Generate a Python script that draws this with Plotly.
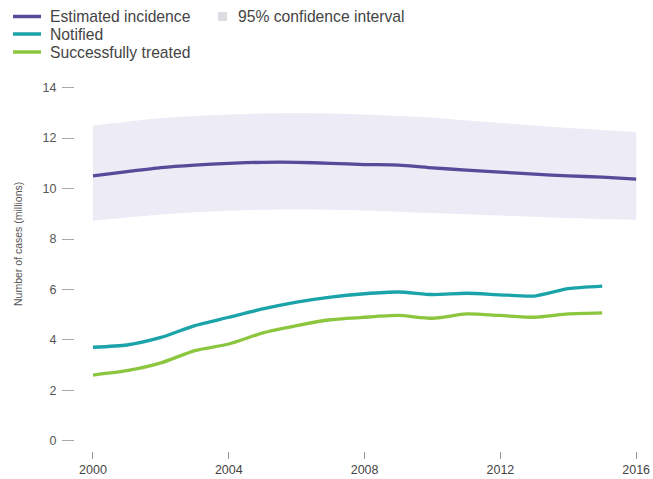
import plotly.graph_objects as go

# Tuberculosis burden, 2000-2016 (millions of cases)
years = list(range(2000, 2017))
incidence = [10.50, 10.67, 10.83, 10.93, 11.00, 11.04, 11.04, 11.00, 10.95,
             10.93, 10.82, 10.73, 10.65, 10.57, 10.50, 10.45, 10.37]
ci_upper = [12.50, 12.65, 12.78, 12.87, 12.93, 12.97, 12.98, 12.97, 12.93,
            12.87, 12.80, 12.70, 12.60, 12.50, 12.40, 12.32, 12.24]
ci_lower = [8.72, 8.85, 8.97, 9.06, 9.12, 9.16, 9.17, 9.16, 9.13,
            9.08, 9.03, 8.98, 8.93, 8.88, 8.83, 8.79, 8.76]

years_reported = list(range(2000, 2016))
notified = [3.71, 3.80, 4.10, 4.57, 4.90, 5.23, 5.50, 5.70, 5.83,
            5.90, 5.80, 5.85, 5.79, 5.74, 6.03, 6.13]
treated = [2.61, 2.78, 3.09, 3.58, 3.84, 4.28, 4.57, 4.80, 4.90,
           4.97, 4.86, 5.03, 4.97, 4.90, 5.03, 5.07]

x_ticks = [2000, 2004, 2008, 2012, 2016]
y_ticks = [0, 2, 4, 6, 8, 10, 12, 14]

PURPLE = "#564a9a"
TEAL = "#1ba3aa"
GREEN = "#8cc63f"
BAND = "#ecebf6"
BAND_KEY = "#dcdce2"
FONT = "Liberation Sans, Arial, sans-serif"

W, H = 653, 479
ML, MR, MT, MB = 75, 8, 80, 28
PW, PH = W - ML - MR, H - MT - MB


def px_x(p):
    return (p - ML) / PW


def px_y(p):
    return 1 - (p - MT) / PH


fig = go.Figure()

# Confidence band
fig.add_trace(go.Scatter(x=years, y=ci_lower, mode="lines", line=dict(width=0, shape="spline"),
                         showlegend=False, hoverinfo="skip"))
fig.add_trace(go.Scatter(x=years, y=ci_upper, mode="lines", line=dict(width=0, shape="spline"),
                         fill="tonexty", fillcolor=BAND, showlegend=False, hoverinfo="skip"))

series = [
    ("Estimated incidence", years, incidence, PURPLE),
    ("Notified", years_reported, notified, TEAL),
    ("Successfully treated", years_reported, treated, GREEN),
]
for name, xs, ys, color in series:
    fig.add_trace(go.Scatter(x=xs, y=ys, mode="lines", name=name, showlegend=False,
                             line=dict(color=color, width=3.3, shape="spline", smoothing=0.6)))

# Key drawn in the top-left corner
shapes = []
annotations = []
key_rows = [16.5, 34, 52]
for (name, _, _, color), ky in zip(series, key_rows):
    shapes.append(dict(type="line", xref="paper", yref="paper",
                       x0=px_x(13), x1=px_x(41), y0=px_y(ky), y1=px_y(ky),
                       line=dict(color=color, width=3.5)))
    annotations.append(dict(text=name, xref="paper", yref="paper",
                            x=px_x(48), y=px_y(ky), xanchor="left", yanchor="middle",
                            showarrow=False, font=dict(size=15.7, color="#444444", family=FONT)))
shapes.append(dict(type="rect", xref="paper", yref="paper",
                   x0=px_x(218), x1=px_x(227), y0=px_y(12), y1=px_y(21),
                   fillcolor=BAND_KEY, line=dict(width=0)))
annotations.append(dict(text="95% confidence interval", xref="paper", yref="paper",
                        x=px_x(236), y=px_y(16.5), xanchor="left", yanchor="middle",
                        showarrow=False, font=dict(size=15.7, color="#444444", family=FONT)))

annotations.append(dict(text="Number of cases (millions)", xref="paper", yref="paper",
                        x=px_x(18), y=px_y(244), xanchor="center", yanchor="middle",
                        textangle=-90, showarrow=False,
                        font=dict(size=10.5, color="#555555", family=FONT)))

fig.update_layout(
    width=W, height=H,
    margin=dict(l=ML, r=MR, t=MT, b=MB, autoexpand=False),
    paper_bgcolor="white", plot_bgcolor="white",
    font=dict(family=FONT, color="#555555"),
    showlegend=False,
    xaxis=dict(range=[1999.47, 2016.26], tickvals=x_ticks, ticks="outside", ticklen=7,
               tickcolor="#999999", tickwidth=1.2, showgrid=False, zeroline=False,
               showline=False, tickfont=dict(size=12.5, color="#444444")),
    yaxis=dict(range=[-0.4, 14.3], tickvals=y_ticks, ticks="outside", ticklen=12,
               tickcolor="#aaaaaa", tickwidth=1.2, showgrid=False, zeroline=False,
               showline=False, ticklabelstandoff=3, tickfont=dict(size=12.5, color="#555555")),
    shapes=shapes,
    annotations=annotations,
)

fig.write_html("out.html")
